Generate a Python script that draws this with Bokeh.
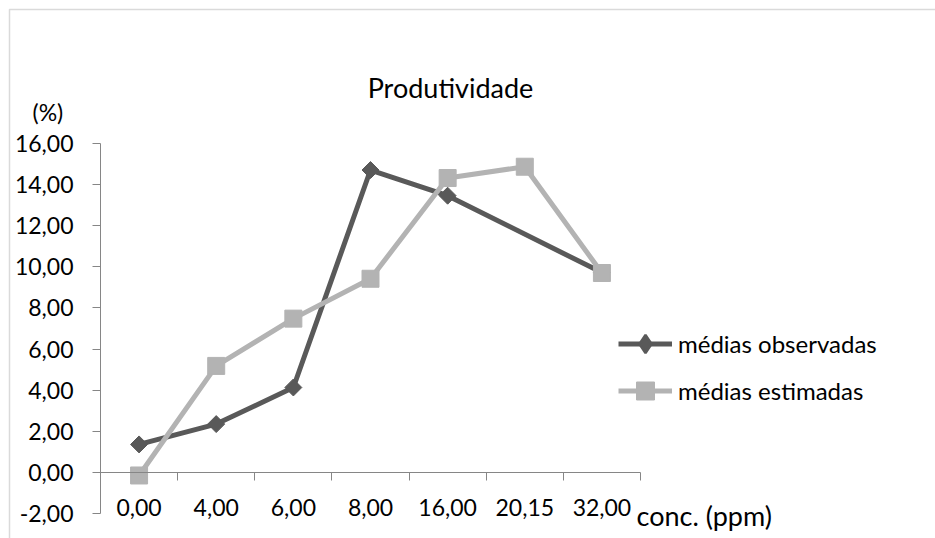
import math
from bokeh.plotting import figure
from bokeh.models import (Range1d, LinearAxis, FixedTicker, Label, Legend,
                          LegendItem, BoxAnnotation)
from bokeh.embed import file_html
from bokeh.resources import INLINE

# ---- data ----
categories = ["0,00", "4,00", "6,00", "8,00", "16,00", "20,15", "32,00"]
observed = [1.36, 2.35, 4.13, 14.71, 13.46, None, 9.72]
estimated = [-0.15, 5.18, 7.48, 9.42, 14.32, 14.87, 9.70]
y_ticks = [-2, 0, 2, 4, 6, 8, 10, 12, 14, 16]
series_names = ["médias observadas", "médias estimadas"]
title_text = "Produtividade"
y_unit = "(%)"
x_unit = "conc. (ppm)"

FONT = "Lato"
FS = "23px"
DARK = "#595959"
LIGHT = "#b3b3b3"
AXIS = "#868686"

# ---- layout (pixels) ----
W, H = 935, 538
PL, PR, PT, PB = 100, 640, 143, 513   # plot-area edges
n = len(categories)
ymin, ymax = y_ticks[0], y_ticks[-1]
sx = (PR - PL) / n
sy = (PB - PT) / (ymax - ymin)
x_range = Range1d(-PL / sx, n + (W - PR) / sx)
y_range = Range1d(ymin - (H - PB) / sy, ymax + PT / sy)

def px_x(px):
    return (px - PL) / sx

def px_y(py):
    return ymax + (PT - py) / sy

p = figure(width=W, height=H, x_range=x_range, y_range=y_range,
           output_backend="svg", toolbar_location=None,
           x_axis_location=None, y_axis_location=None,
           min_border_left=0, min_border_right=0,
           min_border_top=0, min_border_bottom=0)
p.outline_line_color = None
p.background_fill_color = "white"
p.border_fill_color = "white"
p.grid.visible = False

# y axis
yaxis = LinearAxis(ticker=FixedTicker(ticks=y_ticks), fixed_location=0,
                   bounds=(ymin, ymax),
                   major_label_overrides={t: f"{t:.2f}".replace(".", ",") for t in y_ticks},
                   axis_line_color=AXIS, major_tick_line_color=AXIS,
                   major_tick_out=8, major_tick_in=0, minor_tick_out=0, minor_tick_in=0,
                   major_label_standoff=19, major_label_text_font=FONT,
                   major_label_text_font_size=FS, major_label_text_color="black")
p.add_layout(yaxis, "left")

# x axis: tick marks at category boundaries
xticks_axis = LinearAxis(ticker=FixedTicker(ticks=list(range(n + 1))),
                         fixed_location=0, bounds=(0, n), axis_line_color=AXIS,
                         major_tick_line_color=AXIS, major_tick_out=8, major_tick_in=0,
                         minor_tick_out=0, minor_tick_in=0,
                         major_label_text_alpha=0, major_label_text_font_size="1px")
p.add_layout(xticks_axis, "below")
centers = [i + 0.5 for i in range(n)]
xlabels_axis = LinearAxis(ticker=FixedTicker(ticks=centers),
                          major_label_overrides={c: lab for c, lab in zip(centers, categories)},
                          fixed_location=0, axis_line_alpha=0, major_tick_out=0, major_tick_in=0,
                          minor_tick_out=0, minor_tick_in=0, major_label_standoff=27,
                          major_label_text_font=FONT, major_label_text_font_size=FS,
                          major_label_text_color="black")
p.add_layout(xlabels_axis, "below")

# series
obs_x = [c for c, v in zip(centers, observed) if v is not None]
obs_y = [v for v in observed if v is not None]
obs_line = p.line(obs_x, obs_y, line_color=DARK, line_width=5)
# diamond glyph used for the legend (legend glyphs ignore marker angle);
# in the plot it sits hidden under the rotated-square markers
leg_diamond = p.scatter(obs_x, obs_y, marker="diamond", size=11, fill_color=DARK,
                        line_color=DARK, line_width=2.5)
obs_mk = p.scatter(obs_x, obs_y, marker="square", angle=math.pi / 4, size=12,
                   fill_color=DARK, line_color=DARK)
est_line = p.line(centers, estimated, line_color=LIGHT, line_width=5)
est_mk = p.scatter(centers, estimated, marker="square", size=17,
                   fill_color=LIGHT, line_color=LIGHT)

legend = Legend(items=[LegendItem(label=series_names[0], renderers=[obs_line, leg_diamond]),
                       LegendItem(label=series_names[1], renderers=[est_line, est_mk])],
                location=(618, H - 413), padding=0, margin=0, spacing=2,
                glyph_width=54, glyph_height=45, label_standoff=6,
                label_text_font=FONT, label_text_font_size="24px", label_text_color="black",
                border_line_alpha=0, background_fill_alpha=0)
p.add_layout(legend, "center")

# texts
p.add_layout(Label(x=px_x(450), y=px_y(87), text=title_text, text_align="center",
                   text_baseline="alphabetic", text_font=FONT, text_font_size="27px",
                   text_color="black"))
p.add_layout(Label(x=px_x(32), y=px_y(111), text=y_unit, text_align="left",
                   text_baseline="alphabetic", text_font=FONT, text_font_size=FS,
                   text_color="black"))
p.add_layout(Label(x=px_x(636), y=px_y(515), text=x_unit, text_align="left",
                   text_baseline="alphabetic", text_font=FONT, text_font_size="27px",
                   text_color="black"))

# chart area border
p.add_layout(BoxAnnotation(left=px_x(9), right=px_x(W + 20), top=px_y(9), bottom=px_y(H + 20),
                           fill_alpha=0, line_color=AXIS, line_width=1.5))

open("out.html", "w").write(file_html(p, INLINE))
